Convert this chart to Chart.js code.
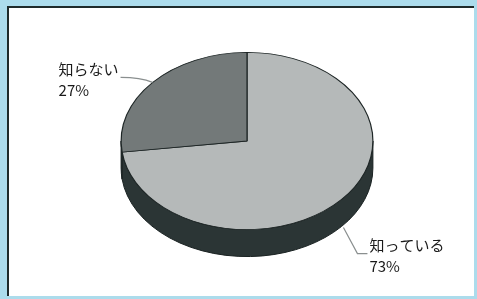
<!DOCTYPE html>
<html><head><meta charset="utf-8">
<script src="https://cdn.jsdelivr.net/npm/chart.js@4/dist/chart.umd.min.js"></script>
<style>
html,body{margin:0;padding:0;background:#fff;}
#wrap{position:relative;width:477px;height:299px;background:#acdcec;}
#frame{position:absolute;left:7px;top:6px;width:467px;height:290px;background:#fff;border-left:2px solid #1e2a2a;border-top:2px solid #1e2a2a;box-sizing:border-box;}
canvas{position:absolute;left:0;top:0;}
</style></head><body>
<div id="wrap"><div id="frame"></div><canvas id="c" width="477" height="299"></canvas></div>
<script>
const categories = ['知っている', '知らない'];
const values = [73, 27];
const sliceColors = ['#b5b9b9', '#737979'];
const sideColor = '#2b3535';

const SQUASH = 89 / 126.5;
const DEPTH = 27;

const pie3d = {
  id: 'pie3d',
  beforeDatasetsDraw(chart) {
    const ctx = chart.ctx;
    const arcs = chart.getDatasetMeta(0).data;
    const cx = arcs[0].x, cy = arcs[0].y, r = arcs[0].outerRadius;
    ctx.save();
    // side (extrusion), visible lower half only
    arcs.forEach((a) => {
      let s = Math.max(a.startAngle, 0), e = Math.min(a.endAngle, Math.PI);
      // handle angles beyond 2PI
      if (e <= s) {
        s = Math.max(a.startAngle - 2*Math.PI, 0); e = Math.min(a.endAngle - 2*Math.PI, Math.PI);
      }
      if (e > s) {
        ctx.beginPath();
        ctx.ellipse(cx, cy, r, r*SQUASH, 0, s, e, false);
        ctx.ellipse(cx, cy + DEPTH, r, r*SQUASH, 0, e, s, true);
        ctx.closePath();
        ctx.fillStyle = sideColor;
        ctx.fill();
        ctx.strokeStyle = '#1a2222';
        ctx.lineWidth = 1;
        ctx.stroke();
      }
    });
    ctx.translate(0, cy);
    ctx.scale(1, SQUASH);
    ctx.translate(0, -cy);
  },
  afterDatasetsDraw(chart) {
    const ctx = chart.ctx;
    ctx.restore();
    const arcs = chart.getDatasetMeta(0).data;
    const cx = arcs[0].x, cy = arcs[0].y, r = arcs[0].outerRadius;
    ctx.save();
    ctx.font = '15px "Noto Sans CJK JP"';
    ctx.fillStyle = '#1a1a1a';
    ctx.textBaseline = 'middle';
    ctx.strokeStyle = '#8a8f8f';
    ctx.lineWidth = 1.2;
    arcs.forEach((a, i) => {
      const mid = (a.startAngle + a.endAngle) / 2;
      const pct = Math.round(values[i] / values.reduce((p, q) => p + q, 0) * 100) + '%';
      let px = cx + r * Math.cos(mid);
      let py = cy + r * SQUASH * Math.sin(mid);
      if (Math.sin(mid) > 0) py += DEPTH;
      ctx.beginPath();
      if (Math.cos(mid) < 0) {
        ctx.moveTo(px, py);
        ctx.quadraticCurveTo(px - 12, py - 5, px - 32, py - 5);
        ctx.stroke();
        ctx.textAlign = 'left';
        const w = ctx.measureText(categories[i]).width;
        const tx = px - 34 - w;
        ctx.fillText(categories[i], tx, py - 13);
        ctx.fillText(pct, tx, py + 8);
      } else {
        ctx.moveTo(px + 2, py + 1);
        ctx.lineTo(px + 16, py + 27);
        ctx.lineTo(px + 26, py + 27);
        ctx.stroke();
        ctx.textAlign = 'left';
        const tx = px + 28;
        ctx.fillText(categories[i], tx, py + 19);
        ctx.fillText(pct, tx, py + 40);
      }
    });
    ctx.restore();
  }
};

new Chart(document.getElementById('c'), {
  type: 'pie',
  data: {
    labels: categories,
    datasets: [{
      data: values,
      backgroundColor: sliceColors,
      borderColor: '#1e2626',
      borderWidth: 1.2,
      hoverOffset: 0
    }]
  },
  options: {
    responsive: false,
    animation: false,
    events: [],
    layout: { padding: { left: 120.5, right: 103.5, top: 14.5, bottom: 31.5 } },
    plugins: { legend: { display: false }, tooltip: { enabled: false } }
  },
  plugins: [pie3d]
});
</script>
</body></html>
